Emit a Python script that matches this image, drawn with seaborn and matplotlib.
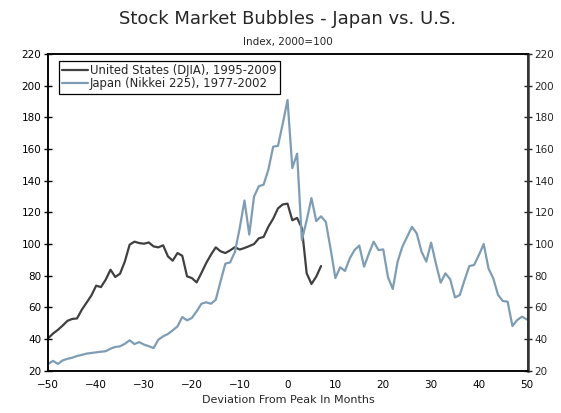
import numpy as np
import pandas as pd
import matplotlib
matplotlib.use("Agg")
import matplotlib.pyplot as plt
import seaborn as sns

# months relative to the market peak
us_months = np.arange(-50, 8)
us_values = [
    40.6, 43.5, 45.8, 48.5, 51.5, 52.7, 53.0, 58.5, 63.0, 67.5,
    73.7, 72.8, 77.5, 83.8, 79.2, 81.3, 89.0, 99.6, 101.5, 100.6,
    100.2, 101.0, 98.5, 97.9, 99.2, 92.2, 89.5, 94.3, 92.6, 79.6,
    78.5, 75.8, 81.7, 88.0, 93.3, 97.9, 95.4, 94.3, 96.0, 98.0,
    96.5, 97.5, 98.7, 100.0, 103.6, 104.5, 111.0, 116.0, 122.5, 125.0,
    125.5, 115.0, 116.5, 110.0, 81.5, 74.8, 79.4, 86.1,
]

japan_months = np.arange(-50, 51)
japan_values = [
    24.4, 26.2, 24.3, 26.5, 27.5, 28.2, 29.3, 30.0, 30.8, 31.2,
    31.6, 32.0, 32.3, 33.9, 35.0, 35.4, 37.0, 39.2, 36.8, 38.1,
    36.5, 35.5, 34.3, 39.6, 41.7, 43.2, 45.5, 48.0, 53.9, 51.8,
    53.3, 57.5, 62.3, 63.2, 62.3, 64.8, 76.4, 87.6, 88.4, 95.0,
    110.0, 127.5, 106.0, 130.0, 136.5, 137.5, 147.0, 161.5, 162.0, 176.0,
    191.0, 148.0, 157.0, 102.5, 115.0, 129.0, 114.5, 117.5, 114.0, 97.0,
    78.5, 85.3, 83.0, 90.9, 96.2, 99.0, 85.7, 94.0, 101.5, 96.2,
    96.6, 79.0, 71.6, 88.8, 98.3, 104.6, 110.9, 106.7, 95.2, 88.9,
    100.9, 87.8, 75.6, 81.5, 77.7, 66.3, 67.8, 77.3, 86.1, 86.8,
    93.1, 100.0, 84.6, 78.3, 67.8, 64.0, 63.6, 48.2, 52.0, 54.1, 52.4,
]

us_label = "United States (DJIA), 1995-2009"
japan_label = "Japan (Nikkei 225), 1977-2002"

x_ticks = list(range(-50, 51, 10))
y_ticks = list(range(20, 221, 20))

df = pd.concat([
    pd.DataFrame({"month": us_months, "index": us_values, "series": us_label}),
    pd.DataFrame({"month": japan_months, "index": japan_values, "series": japan_label}),
])

sns.set_style("white")
plt.rcParams["font.family"] = ["DejaVu Sans"]

fig = plt.figure(figsize=(5.61, 4.13), dpi=100)
ax = fig.add_axes([0.0861, 0.1024, 0.8546, 0.7668])

sns.lineplot(
    data=df, x="month", y="index", hue="series",
    hue_order=[us_label, japan_label],
    palette=["#404040", "#7e9db4"],
    linewidth=1.6, ax=ax,
)

ax.set_xlim(-50, 50.2)
ax.set_ylim(20, 220)
ax.set_xticks(x_ticks)
ax.set_yticks(y_ticks)
ax.set_xlabel("Deviation From Peak In Months", fontsize=8, labelpad=3)
ax.set_ylabel("")
ax.tick_params(axis="both", direction="inout", length=6, width=1,
               labelsize=7.5, colors="black", pad=2)
ax.tick_params(axis="x", pad=4)

# right-hand copy of the index scale
ax2 = ax.twinx()
ax2.set_ylim(20, 220)
ax2.set_yticks(y_ticks)
ax2.tick_params(axis="y", direction="inout", length=6, width=1,
                labelsize=7.5, pad=2)

for a in (ax, ax2):
    for s in a.spines.values():
        s.set_color("black")
        s.set_linewidth(1.1)
ax2.spines["right"].set_color("#333333")
ax2.spines["right"].set_linewidth(1.8)

leg = ax.legend(
    loc="upper left", bbox_to_anchor=(0.022, 0.978), borderaxespad=0,
    prop={"size": 8.4}, frameon=True, fancybox=False, framealpha=1,
    edgecolor="black", borderpad=0.3, handlelength=2.2,
    handletextpad=0.15, labelspacing=0.0,
)
leg.get_frame().set_linewidth(0.9)

fig.text(0.5134, 1 - 19 / 413, "Stock Market Bubbles - Japan vs. U.S.",
         ha="center", va="center", fontsize=13)
fig.text(0.5134, 1 - 42 / 413, "Index, 2000=100",
         ha="center", va="center", fontsize=7.5)

fig.savefig("out.png", dpi=100)
